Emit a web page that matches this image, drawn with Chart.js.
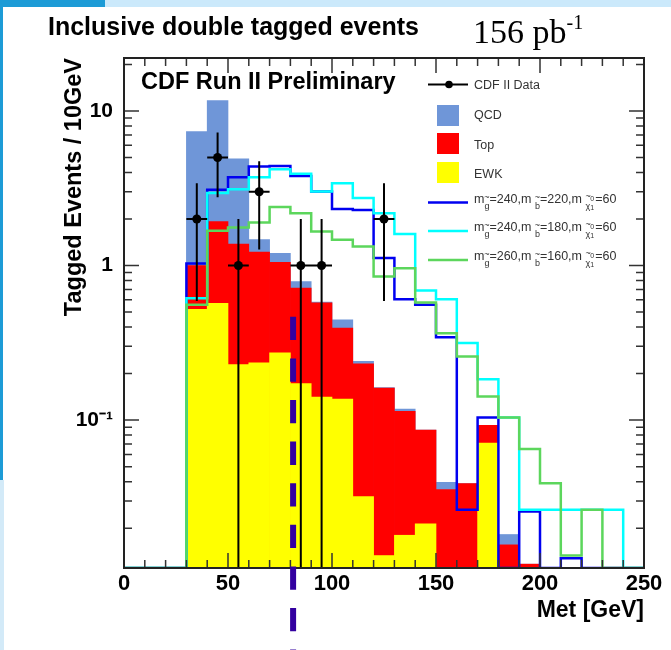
<!DOCTYPE html>
<html>
<head>
<meta charset="utf-8">
<script src="https://cdn.jsdelivr.net/npm/chart.js@4.4.0/dist/chart.umd.min.js"></script>
<style>
  html, body { margin: 0; padding: 0; background: #fff; }
  body { width: 671px; height: 650px; position: relative; overflow: hidden; font-family: "Liberation Sans", Arial, sans-serif; }
  .band { position: absolute; left: 0; top: 0; width: 671px; height: 7px; background: #cbe9fb; }
  .block { position: absolute; left: 0; top: 0; width: 105px; height: 7px; background: #1c9bd6; }
  .strip { position: absolute; left: 0; top: 0; width: 3px; height: 480px; background: #1c9bd6; }
  .strip2 { position: absolute; left: 0; top: 480px; width: 4px; height: 170px; background: #d3eaf8; }
  #title { position: absolute; left: 48px; top: 12px; font-weight: bold; font-size: 25px; white-space: nowrap; }
  #lumi { position: absolute; left: 473px; top: 11px; font-family: "Liberation Serif", "Times New Roman", serif; font-size: 34px; white-space: nowrap; }
  #lumi sup { font-size: 20px; vertical-align: 14px; }
  canvas { position: absolute; left: 0; top: 0; }
</style>
</head>
<body>
<div class="band"></div><div class="block"></div><div class="strip"></div><div class="strip2"></div>
<canvas id="met-chart" width="671" height="650"></canvas>
<div id="title">Inclusive double tagged events</div>
<div id="lumi">156 pb<sup>-1</sup></div>
<script>
// 10 GeV bins from 0 to 250
const binEdges = [0,10,20,30,40,50,60,70,80,90,100,110,120,130,140,150,160,170,180,190,200,210,220,230,240,250];
// stacked backgrounds (per component)
const ewk   = [0,0,0,0.52,0.57,0.229,0.235,0.272,0.172,0.141,0.137,0.032,0.0133,0.018,0.0213,0,0,0.071,0,0,0,0,0,0,0];
const ttbar = [0,0,0,0.48,1.355,1.146,0.985,0.778,0.542,0.433,0.257,0.199,0.148,0.096,0.065,0.0355,0.0389,0.0215,0.0156,0.0117,0,0,0,0,0];
const qcd   = [0,0,0,6.35,9.74,3.52,0.25,0.15,0.074,0.006,0.051,0.009,0.001,0.004,0,0.0041,0,0,0.0026,0,0,0,0,0,0];
// signal hypotheses
const sigA = [0,0,0,1.03,3.09,3.72,4.37,4.41,3.80,3.01,2.32,2.29,1.12,0.606,0.557,0.343,0.0263,0.104,0,0.0256,0,0.0128,0,0,0];
const sigB = [0,0,0,0.615,2.94,3.12,3.72,4.2,3.92,3.01,3.4,2.73,2.18,1.60,0.69,0.606,0.315,0.184,0.104,0.0263,0.0263,0.0263,0.0263,0.0263,0];
const sigC = [0,0,0,0.557,1.68,1.76,1.90,2.39,2.18,1.66,1.47,1.33,0.85,0.96,0.576,0.365,0.258,0.142,0.104,0.065,0.039,0.0133,0.0263,0,0];
// CDF II data
const dataX = [35,45,55,65,85,95,125];
const dataY = [2,5,1,3,1,1,2];
const dataErr = [1.41,2.24,1,1.73,1,1,1.41];
const yLabelTicks = [0.1, 1, 10];
const xLabelTicks = [0,50,100,150,200,250];
const metCut = 81.3;      // dashed cut line [GeV]
const metCutTop = 0.466;

const Y_MIN = 0.01105, Y_MAX = 22;
const FONT = '"Liberation Sans", Arial, sans-serif';
const C_QCD = '#6f96d8', C_TOP = '#ff0000', C_EWK = '#ffff00';
const C_A = '#0000f0', C_B = '#00ffff', C_C = '#5cd65c';

const centers = binEdges.slice(0, -1).map((e, i) => (e + binEdges[i + 1]) / 2);
const cumEwk = ewk.slice();
const cumTop = ewk.map((v, i) => v + ttbar[i]);
const cumAll = cumTop.map((v, i) => v + qcd[i]);

function barData(vals) {
  return centers.map((c, i) => ({ x: c, y: vals[i] > 0 ? vals[i] : null }));
}
function stepPoints(vals) {
  const pts = vals.map((v, i) => ({ x: binEdges[i], y: v > 0 ? v : Y_MIN }));
  pts.push({ x: binEdges[vals.length], y: pts[pts.length - 1].y });
  return pts;
}

function drawLegend(ctx) {
  ctx.save();
  ctx.fillStyle = '#333';
  ctx.textBaseline = 'alphabetic';
  ctx.font = '12.5px ' + FONT;
  // data entry
  ctx.strokeStyle = '#000'; ctx.lineWidth = 2;
  ctx.beginPath(); ctx.moveTo(428, 84.5); ctx.lineTo(468, 84.5); ctx.stroke();
  ctx.fillStyle = '#000';
  ctx.beginPath(); ctx.arc(449, 84.5, 3.8, 0, Math.PI * 2); ctx.fill();
  ctx.fillStyle = '#333';
  ctx.fillText('CDF II Data', 474, 89);
  [[C_QCD, 'QCD', 105, 119], [C_TOP, 'Top', 133, 149], [C_EWK, 'EWK', 162, 178]].forEach(([c, t, y0, yb]) => {
    ctx.fillStyle = c; ctx.fillRect(437, y0, 22, 21);
    ctx.fillStyle = '#333'; ctx.fillText(t, 474, yb);
  });
  const sig = [[C_A, 202.5, '240', '220'], [C_B, 231, '240', '180'], [C_C, 260, '260', '160']];
  sig.forEach(([c, y, mg, mb]) => {
    ctx.strokeStyle = c; ctx.lineWidth = 2.5;
    ctx.beginPath(); ctx.moveTo(428, y); ctx.lineTo(468, y); ctx.stroke();
    ctx.fillStyle = '#333';
    let x = 474;
    const main = (t) => { ctx.font = '12.5px ' + FONT; ctx.fillText(t, x, y); x += ctx.measureText(t).width; };
    const sub = (t, tilde) => {
      ctx.font = '9px ' + FONT;
      const w = ctx.measureText(t).width;
      ctx.fillText(t, x, y + 6);
      if (tilde) ctx.fillText('~', x + w / 2 - ctx.measureText('~').width / 2, y - 3);
      x += w;
    };
    main('m'); sub('g', true); main('=' + mg + ',m '); sub('b', true); main('=' + mb + ',m ');
    ctx.font = '9px ' + FONT;
    const wc = ctx.measureText('\u03c7').width;
    ctx.fillText('\u03c7', x, y + 6);
    ctx.fillText('~', x, y - 4);
    ctx.font = '7px ' + FONT;
    ctx.fillText('0', x + wc, y - 2);
    ctx.fillText('1', x + wc, y + 7);
    x += wc + 5;
    main('=60');
  });
  ctx.restore();
}

function drawFrame(chart) {
  const { ctx, chartArea: a, scales: { x, y } } = chart;
  ctx.save();
  ctx.strokeStyle = '#333'; ctx.lineWidth = 1.5;
  ctx.beginPath();
  for (let v = 0; v <= 250; v += 10) {
    const px = x.getPixelForValue(v);
    const L = v % 50 === 0 ? 15 : 8;
    ctx.moveTo(px, a.bottom); ctx.lineTo(px, a.bottom - L);
    ctx.moveTo(px, a.top); ctx.lineTo(px, a.top + L);
  }
  for (let e = -2; e <= 1; e++) {
    for (let m = 1; m <= 9; m++) {
      const v = m * Math.pow(10, e);
      if (v < Y_MIN || v > Y_MAX) continue;
      const py = y.getPixelForValue(v);
      const L = m === 1 ? 15 : 8;
      ctx.moveTo(a.left, py); ctx.lineTo(a.left + L, py);
      ctx.moveTo(a.right, py); ctx.lineTo(a.right - L, py);
    }
  }
  ctx.stroke();
  ctx.strokeStyle = '#222'; ctx.lineWidth = 2;
  ctx.strokeRect(a.left, a.top, a.right - a.left, a.bottom - a.top);
  ctx.restore();
}

const overlay = {
  id: 'overlay',
  beforeDatasetDraw(chart, args) {
    if (args.index !== 6) return;
    const { ctx, chartArea: a, scales: { x, y } } = chart;
    ctx.save();
    ctx.strokeStyle = '#000'; ctx.lineWidth = 2;
    ctx.beginPath();
    dataX.forEach((xv, i) => {
      const px = x.getPixelForValue(xv), py = y.getPixelForValue(dataY[i]);
      const lo = dataY[i] - dataErr[i];
      const pLo = lo > Y_MIN ? y.getPixelForValue(lo) : a.bottom;
      const pHi = y.getPixelForValue(dataY[i] + dataErr[i]);
      ctx.moveTo(px, pLo); ctx.lineTo(px, pHi);
      ctx.moveTo(x.getPixelForValue(xv - 5), py); ctx.lineTo(x.getPixelForValue(xv + 5), py);
    });
    ctx.stroke();
    ctx.restore();
  },
  afterDraw(chart) {
    const { ctx, scales: { x, y } } = chart;
    drawFrame(chart);
    ctx.font = 'bold 23.5px ' + FONT;
    ctx.fillStyle = '#000';
    ctx.fillText('CDF Run II Preliminary', 141, 88.5);
    drawLegend(ctx);
    // dashed cut line
    ctx.save();
    ctx.strokeStyle = '#3300a0'; ctx.lineWidth = 6;
    ctx.setLineDash([23.3, 18.3]);
    const px = x.getPixelForValue(metCut);
    ctx.beginPath(); ctx.moveTo(px, y.getPixelForValue(metCutTop)); ctx.lineTo(px, chart.height); ctx.stroke();
    ctx.restore();
  }
};

Chart.defaults.font.family = FONT;
Chart.defaults.color = '#000';

new Chart(document.getElementById('met-chart'), {
  type: 'line',
  data: {
    datasets: [
      { type: 'bar', label: 'QCD', data: barData(cumAll), backgroundColor: C_QCD, grouped: false, order: 9, barPercentage: 1, categoryPercentage: 1, borderWidth: 0 },
      { type: 'bar', label: 'Top', data: barData(cumTop), backgroundColor: C_TOP, grouped: false, order: 8, barPercentage: 1, categoryPercentage: 1, borderWidth: 0 },
      { type: 'bar', label: 'EWK', data: barData(cumEwk), backgroundColor: C_EWK, grouped: false, order: 7, barPercentage: 1, categoryPercentage: 1, borderWidth: 0 },
      { label: 'A', data: stepPoints(sigA), borderColor: C_A, borderWidth: 2.5, stepped: true, pointRadius: 0, fill: false, order: 5 },
      { label: 'B', data: stepPoints(sigB), borderColor: C_B, borderWidth: 2.5, stepped: true, pointRadius: 0, fill: false, order: 4 },
      { label: 'C', data: stepPoints(sigC), borderColor: C_C, borderWidth: 2.5, stepped: true, pointRadius: 0, fill: false, order: 3 },
      { label: 'CDF II Data', data: dataX.map((v, i) => ({ x: v, y: dataY[i] })), showLine: false, pointRadius: 4.5, pointBackgroundColor: '#000', pointBorderWidth: 0, order: 0 }
    ]
  },
  options: {
    responsive: false,
    animation: false,
    devicePixelRatio: 1,
    events: [],
    layout: { padding: { left: 0, top: 58, right: 27, bottom: 0 } },
    plugins: { legend: { display: false }, tooltip: { enabled: false } },
    scales: {
      x: {
        type: 'linear', min: 0, max: 250, offset: false,
        grid: { display: false, drawTicks: false },
        border: { display: false },
        ticks: { stepSize: 50, padding: 3, font: { size: 22, weight: 'bold' }, maxRotation: 0,
                 callback: v => xLabelTicks.includes(v) ? String(v) : '' },
        title: { display: true, text: 'Met [GeV]', align: 'end', font: { size: 23, weight: 'bold' }, padding: { top: 0, bottom: 26 } },
        afterFit: s => { s.height = 82; }
      },
      y: {
        type: 'logarithmic', min: Y_MIN, max: Y_MAX,
        grid: { display: false, drawTicks: false },
        border: { display: false },
        ticks: { autoSkip: false, padding: 11, font: { size: 21, weight: 'bold' },
                 callback: v => {
                   const hit = yLabelTicks.find(t => Math.abs(t - v) < t * 1e-6);
                   if (hit === undefined) return '';
                   return hit === 0.1 ? '10\u207b\u00b9' : String(hit);
                 } },
        title: { display: true, text: 'Tagged Events / 10GeV', align: 'end', font: { size: 23.5, weight: 'bold' }, padding: { top: 60, bottom: 0 } },
        afterFit: s => { s.width = 124; }
      }
    }
  },
  plugins: [overlay]
});
</script>
</body>
</html>
